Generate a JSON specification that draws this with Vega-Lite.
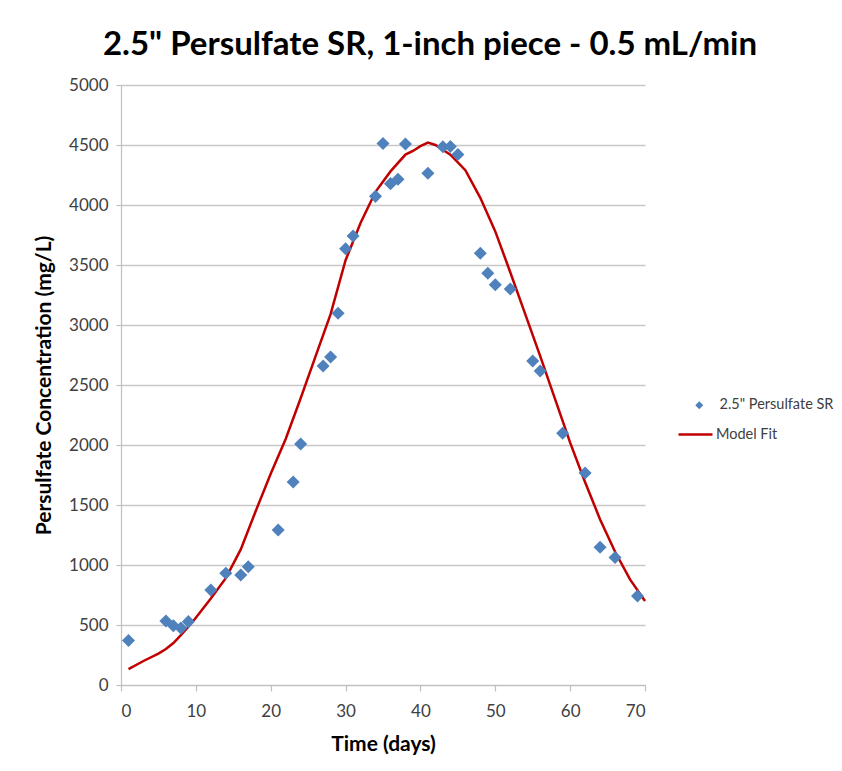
{
  "$schema": "https://vega.github.io/schema/vega-lite/v6.json",
  "autosize": "none",
  "width": 524,
  "height": 600,
  "padding": {"left": 121, "top": 85, "right": 197, "bottom": 86},
  "background": "white",
  "title": {
    "text": "2.5\" Persulfate SR, 1-inch piece - 0.5 mL/min",
    "font": "Lato",
    "fontSize": 33,
    "fontWeight": "bold",
    "color": "#000000",
    "anchor": "middle",
    "dx": 47,
    "offset": 14
  },
  "config": {
    "view": {"stroke": null},
    "axis": {
      "labelFont": "Lato",
      "labelFontSize": 17,
      "labelColor": "#404040",
      "titleFont": "Lato",
      "titleFontSize": 21,
      "titleFontWeight": "bold",
      "titleColor": "#000000",
      "domainColor": "#bfbfbf",
      "domainWidth": 1.2,
      "tickColor": "#bfbfbf",
      "tickWidth": 1.2,
      "gridColor": "#c8c8c8",
      "gridWidth": 1.3
    }
  },
  "datasets": {
    "obs": [
      {"day": 1, "conc": 370, "series": "2.5\" Persulfate SR"},
      {"day": 6, "conc": 533, "series": "2.5\" Persulfate SR"},
      {"day": 7, "conc": 494, "series": "2.5\" Persulfate SR"},
      {"day": 8, "conc": 474, "series": "2.5\" Persulfate SR"},
      {"day": 9, "conc": 528, "series": "2.5\" Persulfate SR"},
      {"day": 12, "conc": 792, "series": "2.5\" Persulfate SR"},
      {"day": 14, "conc": 931, "series": "2.5\" Persulfate SR"},
      {"day": 16, "conc": 917, "series": "2.5\" Persulfate SR"},
      {"day": 17, "conc": 986, "series": "2.5\" Persulfate SR"},
      {"day": 21, "conc": 1292, "series": "2.5\" Persulfate SR"},
      {"day": 23, "conc": 1692, "series": "2.5\" Persulfate SR"},
      {"day": 24, "conc": 2008, "series": "2.5\" Persulfate SR"},
      {"day": 27, "conc": 2658, "series": "2.5\" Persulfate SR"},
      {"day": 28, "conc": 2733, "series": "2.5\" Persulfate SR"},
      {"day": 29, "conc": 3098, "series": "2.5\" Persulfate SR"},
      {"day": 30, "conc": 3636, "series": "2.5\" Persulfate SR"},
      {"day": 31, "conc": 3742, "series": "2.5\" Persulfate SR"},
      {"day": 34, "conc": 4072, "series": "2.5\" Persulfate SR"},
      {"day": 35, "conc": 4512, "series": "2.5\" Persulfate SR"},
      {"day": 36, "conc": 4178, "series": "2.5\" Persulfate SR"},
      {"day": 37, "conc": 4215, "series": "2.5\" Persulfate SR"},
      {"day": 38, "conc": 4508, "series": "2.5\" Persulfate SR"},
      {"day": 41, "conc": 4264, "series": "2.5\" Persulfate SR"},
      {"day": 43, "conc": 4485, "series": "2.5\" Persulfate SR"},
      {"day": 44, "conc": 4488, "series": "2.5\" Persulfate SR"},
      {"day": 45, "conc": 4420, "series": "2.5\" Persulfate SR"},
      {"day": 48, "conc": 3598, "series": "2.5\" Persulfate SR"},
      {"day": 49, "conc": 3432, "series": "2.5\" Persulfate SR"},
      {"day": 50, "conc": 3336, "series": "2.5\" Persulfate SR"},
      {"day": 52, "conc": 3300, "series": "2.5\" Persulfate SR"},
      {"day": 55, "conc": 2700, "series": "2.5\" Persulfate SR"},
      {"day": 56, "conc": 2617, "series": "2.5\" Persulfate SR"},
      {"day": 59, "conc": 2098, "series": "2.5\" Persulfate SR"},
      {"day": 62, "conc": 1767, "series": "2.5\" Persulfate SR"},
      {"day": 64, "conc": 1148, "series": "2.5\" Persulfate SR"},
      {"day": 66, "conc": 1062, "series": "2.5\" Persulfate SR"},
      {"day": 69, "conc": 742, "series": "2.5\" Persulfate SR"}
    ],
    "fit": [
      {"day": 1, "conc": 133, "series": "Model Fit"},
      {"day": 3, "conc": 200, "series": "Model Fit"},
      {"day": 5, "conc": 262, "series": "Model Fit"},
      {"day": 6, "conc": 300, "series": "Model Fit"},
      {"day": 7, "conc": 350, "series": "Model Fit"},
      {"day": 8, "conc": 415, "series": "Model Fit"},
      {"day": 9, "conc": 485, "series": "Model Fit"},
      {"day": 10, "conc": 560, "series": "Model Fit"},
      {"day": 12, "conc": 720, "series": "Model Fit"},
      {"day": 14, "conc": 890, "series": "Model Fit"},
      {"day": 16, "conc": 1130, "series": "Model Fit"},
      {"day": 18, "conc": 1450, "series": "Model Fit"},
      {"day": 20, "conc": 1760, "series": "Model Fit"},
      {"day": 22, "conc": 2050, "series": "Model Fit"},
      {"day": 24, "conc": 2390, "series": "Model Fit"},
      {"day": 26, "conc": 2740, "series": "Model Fit"},
      {"day": 28, "conc": 3090, "series": "Model Fit"},
      {"day": 30, "conc": 3540, "series": "Model Fit"},
      {"day": 32, "conc": 3850, "series": "Model Fit"},
      {"day": 34, "conc": 4110, "series": "Model Fit"},
      {"day": 36, "conc": 4280, "series": "Model Fit"},
      {"day": 38, "conc": 4420, "series": "Model Fit"},
      {"day": 39, "conc": 4450, "series": "Model Fit"},
      {"day": 40, "conc": 4490, "series": "Model Fit"},
      {"day": 41, "conc": 4520, "series": "Model Fit"},
      {"day": 42, "conc": 4500, "series": "Model Fit"},
      {"day": 44, "conc": 4420, "series": "Model Fit"},
      {"day": 46, "conc": 4290, "series": "Model Fit"},
      {"day": 48, "conc": 4060, "series": "Model Fit"},
      {"day": 50, "conc": 3780, "series": "Model Fit"},
      {"day": 52, "conc": 3440, "series": "Model Fit"},
      {"day": 54, "conc": 3090, "series": "Model Fit"},
      {"day": 56, "conc": 2740, "series": "Model Fit"},
      {"day": 58, "conc": 2380, "series": "Model Fit"},
      {"day": 60, "conc": 2020, "series": "Model Fit"},
      {"day": 62, "conc": 1690, "series": "Model Fit"},
      {"day": 64, "conc": 1380, "series": "Model Fit"},
      {"day": 66, "conc": 1110, "series": "Model Fit"},
      {"day": 68, "conc": 880, "series": "Model Fit"},
      {"day": 70, "conc": 700, "series": "Model Fit"}
    ]
  },
  "encoding": {
    "x": {
      "field": "day",
      "type": "quantitative",
      "scale": {"domain": [0, 70], "nice": false},
      "axis": {
        "title": "Time (days)",
        "values": [0, 10, 20, 30, 40, 50, 60, 70],
        "grid": false,
        "tickSize": 6,
        "labelPadding": 12,
        "titlePadding": 14
      }
    },
    "y": {
      "field": "conc",
      "type": "quantitative",
      "scale": {"domain": [0, 5000], "nice": false},
      "axis": {
        "title": "Persulfate Concentration (mg/L)",
        "format": "d",
        "values": [0, 500, 1000, 1500, 2000, 2500, 3000, 3500, 4000, 4500, 5000],
        "grid": true,
        "tickSize": 5,
        "labelPadding": 8,
        "titlePadding": 14
      }
    }
  },
  "layer": [
    {
      "data": {"name": "fit"},
      "mark": {"type": "line", "strokeWidth": 2.5, "clip": false},
      "encoding": {
        "color": {
          "field": "series",
          "type": "nominal",
          "scale": {"domain": ["Model Fit"], "range": ["#C00000"]},
          "legend": {
            "orient": "none",
            "legendX": 556,
            "legendY": 331,
            "title": null,
            "symbolType": "stroke",
            "symbolSize": 1156,
            "symbolStrokeWidth": 2.5,
            "labelFont": "Lato",
            "labelFontSize": 14.5,
            "labelColor": "#404040",
            "labelOffset": 2,
            "padding": 0
          }
        }
      }
    },
    {
      "data": {"name": "obs"},
      "mark": {"type": "point", "shape": "diamond", "filled": true, "size": 170, "opacity": 1},
      "encoding": {
        "color": {
          "field": "series",
          "type": "nominal",
          "scale": {"domain": ["2.5\" Persulfate SR"], "range": ["#4F81BD"]},
          "legend": {
            "orient": "none",
            "legendX": 571,
            "legendY": 313,
            "title": null,
            "symbolType": "diamond",
            "symbolSize": 64,
            "symbolOpacity": 1,
            "labelFont": "Lato",
            "labelFontSize": 14.5,
            "labelColor": "#404040",
            "labelOffset": 13,
            "padding": 0
          }
        }
      }
    }
  ],
  "resolve": {"scale": {"color": "independent"}}
}
